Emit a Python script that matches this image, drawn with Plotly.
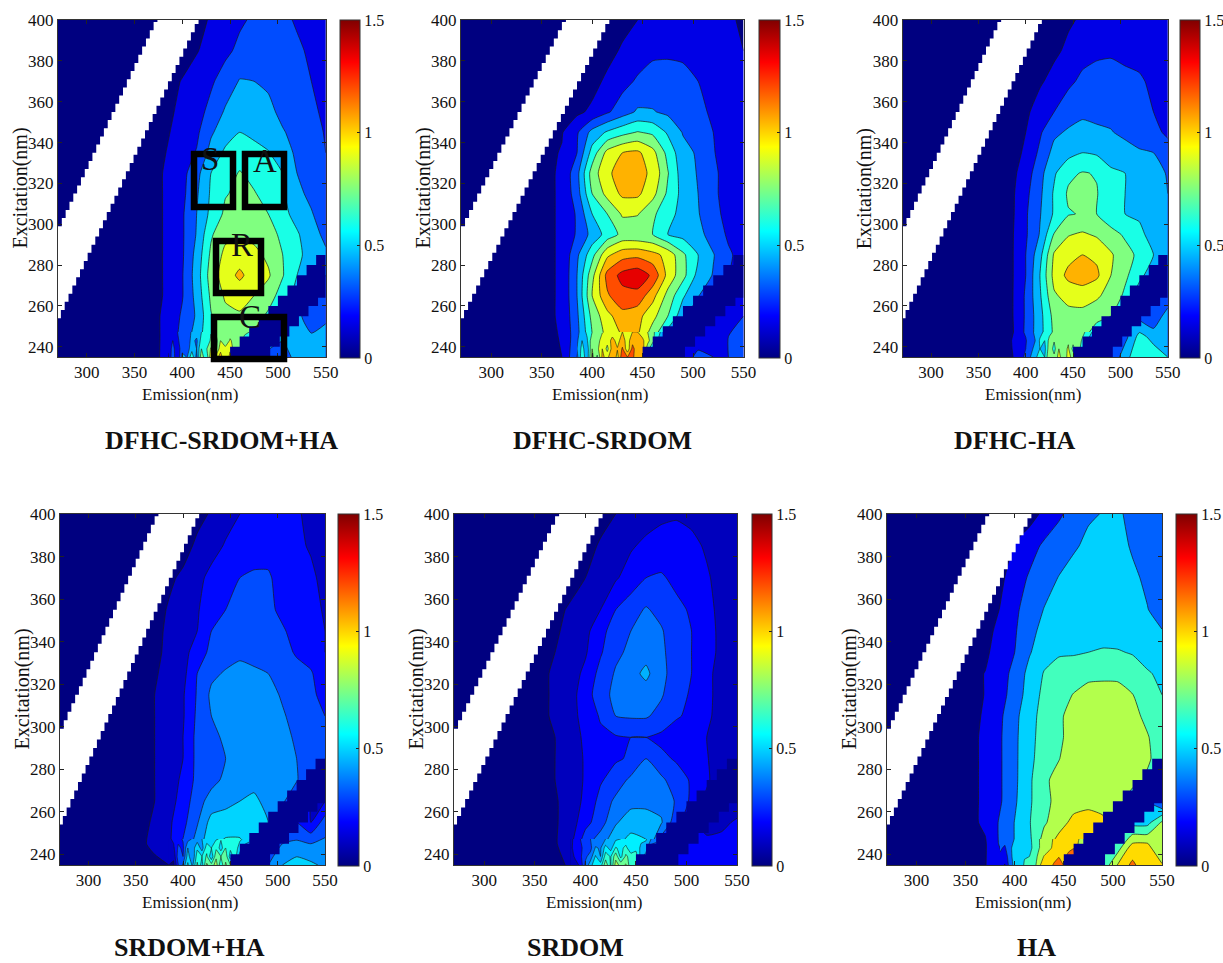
import plotly.graph_objects as go

W, H = 1223, 963
FONT = "Liberation Serif"

emission = [270, 340, 370, 385, 400, 415, 430, 445, 460, 475, 490, 505, 520, 535, 550]
excitation = [400, 385, 370, 355, 345, 335, 325, 315, 305, 295, 285, 275, 265, 255, 245, 235]

dfhc_srdom_ha = [
    [.04,.04,.04,.05,.06,.09,.17,.23,.28,.32,.35,.34,.28,.24,.2],
    [.04,.04,.04,.05,.07,.14,.21,.27,.33,.38,.4,.38,.33,.27,.22],
    [.04,.04,.05,.09,.16,.22,.28,.36,.46,.45,.43,.4,.36,.3,.25],
    [.04,.04,.07,.12,.19,.25,.34,.47,.54,.53,.48,.42,.38,.33,.27],
    [.04,.05,.08,.14,.21,.27,.43,.53,.6,.56,.52,.46,.41,.35,.29],
    [.04,.05,.09,.16,.23,.31,.5,.63,.68,.66,.61,.5,.43,.38,.3],
    [.04,.05,.1,.18,.25,.4,.6,.69,.76,.71,.66,.6,.45,.4,.32],
    [.04,.05,.1,.18,.26,.43,.62,.74,.78,.76,.7,.62,.48,.42,.35],
    [.04,.05,.1,.18,.28,.45,.64,.78,.82,.79,.75,.65,.54,.46,.38],
    [.04,.05,.1,.18,.28,.46,.73,.86,.88,.86,.8,.72,.62,.5,.42],
    [.04,.05,.1,.18,.28,.5,.78,.94,.98,.94,.87,.75,.63,.55,.47],
    [.04,.05,.1,.18,.29,.52,.82,.98,1.08,.98,.92,.76,.6,.5,.45],
    [.04,.05,.1,.18,.29,.5,.78,.92,.96,.9,.82,.68,.55,.45,.4],
    [.04,.05,.11,.2,.32,.47,.74,.86,.88,.82,.72,.6,.5,.35,.42],
    [.04,.05,.11,.2,.35,.52,.74,.84,.82,.72,.55,.48,.5,.47,.5],
    [.04,.05,.1,.22,.42,.62,.88,1.08,.92,.7,.4,.35,.52,.47,.56],
]
dfhc_srdom = [
    [.04,.04,.04,.05,.05,.06,.1,.15,.2,.22,.24,.24,.22,.18,.12],
    [.04,.04,.04,.05,.06,.1,.17,.22,.27,.28,.28,.27,.25,.2,.15],
    [.04,.04,.05,.07,.1,.18,.25,.32,.36,.35,.33,.3,.27,.22,.17],
    [.04,.05,.08,.12,.18,.28,.38,.47,.46,.42,.38,.33,.28,.22,.17],
    [.04,.08,.14,.28,.5,.62,.7,.76,.72,.58,.44,.38,.3,.22,.17],
    [.04,.08,.16,.3,.66,.95,1.05,1.08,.95,.7,.5,.43,.31,.23,.17],
    [.04,.08,.17,.4,.82,1.02,1.12,1.1,1.02,.76,.52,.44,.33,.24,.18],
    [.04,.08,.17,.38,.75,.95,1.08,1.08,.95,.72,.55,.45,.33,.24,.18],
    [.04,.08,.17,.32,.6,.75,.92,.91,.78,.65,.55,.46,.35,.25,.18],
    [.04,.08,.17,.32,.5,.66,.79,.78,.75,.6,.55,.5,.38,.28,.2],
    [.04,.08,.17,.42,.7,1.02,1.14,1.16,1.1,1.0,.78,.6,.46,.32,.25],
    [.04,.08,.17,.45,.85,1.25,1.4,1.45,1.32,1.0,.8,.55,.44,.3,.2],
    [.04,.08,.17,.45,.9,1.18,1.3,1.3,1.1,.85,.62,.46,.3,.2,.2],
    [.04,.08,.17,.42,.8,1.0,1.15,1.1,.95,.75,.5,.3,.2,.2,.3],
    [.04,.08,.16,.4,.75,.95,1.05,1.05,.8,.5,.3,.2,.3,.3,.33],
    [.04,.07,.15,.45,.9,1.05,1.2,1.1,.5,.3,.2,.35,.3,.3,.32],
]
dfhc_ha = [
    [.04,.04,.04,.04,.05,.05,.08,.13,.17,.2,.22,.23,.22,.22,.2],
    [.04,.04,.04,.04,.05,.07,.12,.18,.25,.28,.29,.27,.25,.23,.2],
    [.04,.04,.04,.05,.07,.13,.2,.27,.33,.34,.33,.33,.32,.27,.22],
    [.04,.04,.05,.07,.12,.22,.3,.38,.42,.42,.4,.38,.36,.3,.26],
    [.04,.04,.05,.08,.15,.28,.42,.47,.5,.47,.46,.41,.37,.33,.28],
    [.04,.04,.06,.08,.18,.33,.5,.55,.6,.58,.55,.52,.47,.45,.35],
    [.04,.05,.07,.11,.22,.4,.58,.72,.76,.74,.62,.6,.56,.5,.44],
    [.04,.05,.08,.12,.26,.42,.62,.77,.8,.76,.63,.6,.55,.48,.45],
    [.04,.05,.08,.12,.28,.44,.62,.74,.76,.75,.66,.6,.57,.5,.46],
    [.04,.05,.08,.13,.28,.46,.76,.89,.92,.88,.8,.73,.65,.52,.46],
    [.04,.05,.08,.13,.3,.55,.92,1.0,1.05,1.02,.92,.8,.72,.6,.5],
    [.04,.05,.08,.13,.3,.6,.95,1.09,1.12,1.08,.9,.78,.65,.5,.4],
    [.04,.05,.08,.13,.32,.58,.88,.95,.98,.92,.85,.72,.5,.4,.3],
    [.04,.05,.08,.13,.32,.55,.8,.85,.84,.82,.75,.5,.4,.3,.55],
    [.04,.05,.08,.12,.33,.55,.78,.82,.8,.6,.4,.4,.65,.55,.6],
    [.04,.05,.08,.14,.35,.62,.85,.85,.4,.3,.3,.55,.7,.68,.6],
]
srdom_ha = [
    [.03,.03,.03,.03,.04,.07,.11,.16,.2,.22,.23,.23,.21,.18,.15],
    [.03,.03,.03,.04,.06,.12,.16,.21,.25,.27,.27,.25,.22,.19,.16],
    [.03,.03,.05,.08,.12,.17,.23,.27,.3,.31,.31,.27,.25,.22,.17],
    [.03,.04,.06,.11,.15,.19,.26,.3,.33,.34,.32,.28,.26,.23,.19],
    [.03,.04,.07,.12,.16,.2,.3,.34,.36,.36,.34,.31,.27,.23,.2],
    [.03,.04,.08,.12,.17,.24,.33,.36,.38,.38,.36,.33,.29,.26,.2],
    [.03,.05,.09,.13,.17,.3,.38,.41,.43,.41,.4,.36,.33,.31,.24],
    [.03,.05,.1,.14,.19,.31,.42,.44,.45,.44,.43,.39,.35,.32,.27],
    [.03,.05,.1,.14,.19,.32,.4,.44,.46,.45,.44,.41,.37,.33,.3],
    [.03,.05,.1,.14,.2,.33,.37,.42,.45,.46,.45,.42,.39,.34,.32],
    [.03,.05,.1,.15,.2,.33,.36,.4,.44,.46,.46,.43,.4,.31,.3],
    [.03,.05,.1,.15,.22,.33,.37,.42,.46,.47,.46,.44,.41,.3,.2],
    [.03,.05,.1,.16,.24,.36,.44,.47,.5,.52,.47,.42,.3,.2,.2],
    [.03,.05,.11,.18,.27,.39,.54,.55,.55,.53,.5,.3,.3,.2,.35],
    [.03,.05,.12,.18,.31,.45,.58,.62,.62,.5,.4,.4,.42,.4,.42],
    [.03,.05,.08,.1,.42,.6,.68,.72,.6,.4,.4,.5,.55,.52,.48],
]
srdom = [
    [.03,.03,.03,.03,.04,.06,.09,.12,.14,.16,.17,.16,.14,.12,.1],
    [.03,.03,.03,.04,.06,.1,.14,.17,.2,.22,.22,.2,.17,.13,.1],
    [.03,.03,.04,.06,.09,.13,.17,.22,.27,.28,.25,.22,.19,.15,.1],
    [.03,.04,.07,.1,.13,.18,.27,.32,.37,.33,.29,.26,.2,.16,.1],
    [.03,.04,.08,.11,.15,.25,.3,.36,.4,.37,.3,.27,.21,.16,.11],
    [.03,.05,.09,.12,.17,.26,.34,.38,.42,.38,.31,.27,.21,.16,.11],
    [.03,.05,.1,.14,.2,.3,.37,.42,.47,.39,.31,.27,.2,.15,.1],
    [.03,.05,.1,.15,.22,.33,.38,.4,.41,.37,.3,.26,.2,.15,.1],
    [.03,.05,.1,.15,.21,.28,.36,.37,.37,.33,.28,.25,.2,.14,.1],
    [.03,.05,.09,.13,.2,.25,.26,.27,.27,.25,.22,.2,.18,.14,.1],
    [.03,.05,.09,.13,.19,.24,.26,.28,.36,.29,.26,.22,.19,.1,.1],
    [.03,.05,.09,.13,.19,.26,.31,.38,.4,.38,.31,.26,.2,.1,.1],
    [.03,.05,.08,.13,.2,.3,.38,.42,.42,.42,.35,.25,.15,.1,.1],
    [.03,.05,.08,.13,.24,.32,.44,.5,.5,.46,.3,.2,.15,.15,.2],
    [.03,.05,.08,.15,.33,.42,.52,.58,.55,.3,.2,.2,.2,.22,.2],
    [.03,.04,.03,.12,.36,.55,.72,.72,.4,.2,.2,.22,.25,.22,.2],
]
ha = [
    [.05,.05,.05,.05,.06,.1,.2,.3,.4,.48,.5,.52,.45,.4,.37],
    [.05,.05,.05,.06,.18,.26,.36,.43,.48,.52,.55,.54,.48,.42,.37],
    [.05,.05,.06,.13,.24,.35,.44,.5,.54,.56,.56,.55,.52,.47,.42],
    [.05,.05,.08,.17,.29,.42,.5,.55,.58,.6,.6,.58,.55,.5,.44],
    [.05,.05,.1,.22,.31,.46,.53,.58,.6,.61,.62,.6,.58,.54,.5],
    [.05,.06,.13,.25,.33,.48,.6,.64,.64,.66,.67,.67,.65,.58,.52],
    [.05,.07,.17,.27,.37,.55,.67,.73,.77,.8,.8,.79,.73,.68,.62],
    [.05,.07,.17,.27,.4,.57,.7,.78,.83,.86,.87,.88,.83,.72,.66],
    [.05,.08,.18,.3,.45,.6,.72,.8,.88,.92,.93,.92,.88,.78,.7],
    [.05,.08,.19,.31,.46,.61,.73,.8,.88,.93,.95,.95,.92,.84,.72],
    [.05,.08,.19,.31,.46,.62,.74,.82,.9,.94,.96,.96,.92,.85,.75],
    [.05,.08,.19,.31,.46,.63,.8,.87,.92,.95,.96,.95,.9,.8,.7],
    [.05,.08,.19,.31,.47,.64,.76,.9,.93,.95,.97,.9,.7,.5,.3],
    [.05,.08,.19,.35,.5,.65,.8,.93,1.03,1.05,1.0,.7,.6,.6,.85],
    [.05,.07,.15,.35,.5,.62,.92,1.05,1.07,1.0,.7,.7,1.0,1.0,.85],
    [.05,.06,.16,.25,.5,.7,1.02,1.2,1.0,.7,.7,1.0,1.2,1.0,1.0],
]

# finer readings of the spiky bottom edge of each panel
detail_emission = [385,390,395,400,405,410,415,420,425,430,435,440,445,450,455,460,465,470]
detail_excitation = [247.25, 243, 239, 235]
detail_dfhc_srdom_ha = [
    [.2,.25,.3,.35,.41,.46,.52,.6,.67,.74,.77,.81,.84,.83,.83,.82,.78,.75],
    [.2,.3,.27,.38,.36,.5,.42,.66,.62,.78,.68,.9,.78,.92,.84,.85,.7,.75],
    [.18,.35,.2,.4,.36,.55,.45,.75,.72,.92,.7,1.0,.95,1.02,.8,.9,.7,.7],
    [.12,.4,.15,.5,.44,.7,.4,.85,.62,1.0,.95,1.12,.9,1.1,.8,.95,.7,.7],
]
detail_dfhc_srdom = [
    [.4,.52,.63,.75,.82,.88,.95,.98,1.02,1.05,1.05,1.05,1.05,.98,.9,.8,.65,.55],
    [.42,.6,.58,.85,.78,1.02,.96,1.1,1.0,1.12,.98,1.15,1.08,1.08,.95,.8,.6,.5],
    [.45,.65,.5,.9,.85,1.05,.85,1.12,1.06,1.22,.95,1.25,1.1,1.12,.82,.6,.4,.4],
    [.4,.7,.5,.95,.72,1.08,1.0,1.2,1.0,1.3,1.2,1.25,1.05,1.1,.9,.5,.3,.3],
]
detail_dfhc_ha = [
    [.12,.19,.26,.33,.4,.48,.55,.63,.7,.78,.79,.8,.82,.81,.81,.8,.7,.6],
    [.15,.18,.3,.28,.42,.45,.62,.6,.8,.76,.85,.78,.88,.8,.85,.72,.6,.5],
    [.14,.22,.3,.3,.4,.5,.6,.55,.85,.7,.9,.84,.92,.7,.88,.6,.4,.4],
    [.1,.25,.2,.38,.45,.55,.7,.6,.9,.78,.95,.8,.95,.85,.6,.4,.3,.3],
]
detail_srdom_ha = [
    [.18,.22,.27,.31,.36,.41,.45,.5,.54,.58,.59,.61,.62,.62,.62,.62,.58,.55],
    [.2,.18,.32,.28,.5,.44,.58,.45,.66,.6,.68,.55,.7,.62,.66,.55,.45,.4],
    [.15,.12,.36,.3,.55,.4,.66,.6,.72,.52,.78,.7,.76,.55,.65,.45,.4,.35],
    [.1,.08,.3,.42,.62,.48,.72,.55,.82,.74,.85,.62,.82,.7,.65,.4,.3,.3],
]
detail_srdom = [
    [.15,.21,.27,.33,.36,.39,.42,.45,.49,.52,.54,.56,.58,.57,.56,.55,.45,.4],
    [.13,.25,.22,.36,.33,.46,.44,.58,.5,.64,.6,.66,.55,.6,.52,.5,.3,.3],
    [.12,.2,.25,.34,.4,.55,.45,.68,.62,.78,.6,.74,.68,.68,.5,.4,.3,.25],
    [.1,.14,.2,.38,.5,.62,.58,.78,.62,.85,.78,.82,.65,.72,.6,.35,.25,.2],
]
detail_ha = [
    [.35,.4,.45,.5,.54,.58,.62,.72,.82,.92,.96,1.0,1.05,1.05,1.06,1.07,1.0,.9],
    [.36,.3,.48,.52,.5,.62,.62,.7,.82,.9,.96,1.02,1.1,1.05,1.1,1.15,.95,.85],
    [.3,.2,.45,.55,.52,.65,.66,.72,.9,1.0,1.05,1.08,1.15,1.1,1.22,1.22,1.0,.8],
    [.2,.16,.4,.55,.56,.68,.7,.75,.98,1.02,1.08,1.18,1.2,1.15,1.25,1.22,1.0,.8],
]

panel_titles = ["DFHC-SRDOM+HA", "DFHC-SRDOM", "DFHC-HA", "SRDOM+HA", "SRDOM", "HA"]
panel_values = [dfhc_srdom_ha, dfhc_srdom, dfhc_ha, srdom_ha, srdom, ha]
panel_details = [detail_dfhc_srdom_ha, detail_dfhc_srdom, detail_dfhc_ha, detail_srdom_ha, detail_srdom, detail_ha]
level_steps = [.15, .15, .15, .1, .09, .165]

x_ticks = [300, 350, 400, 450, 500, 550]
y_ticks = [240, 260, 280, 300, 320, 340, 360, 380, 400]
cbar_ticks = [0, .5, 1, 1.5]
cbar_labels = ["0", "0.5", "1", "1.5"]

# Rayleigh scatter band (white) and second-order band (navy), staircase edges
scatter_ex = [250,254,258,262,266,270,274,278,282,286,290,294,298,302,306,310,314,318,322,326,330,334,338,342,346,350,354,358,362,366,370,374,378,382,386,390,394,398,400]
scatter_em_right = [270,273,277,281,285,289,293,297,301,305,309,313,317,321,325,329,333,337,341,345,349,353,357,361,365,369,373,377,381,385,389,393,397,401,405,409,413,417,418]
scatter_left_ex = [295,299,303,307,311,315,319,323,327,331,335,339,343,347,351,355,359,363,367,371,375,379,383,387,391,395,399,400]
scatter_em_left = [270,274,278,282,286,290,294,298,302,306,310,314,318,322,326,330,334,338,342,346,350,354,358,362,366,370,374,376]
second_upper_ex = [235,240,245,250,255,260,265,270,275,280,285,288]
second_upper_em = [450,460,470,480,490,500,510,520,530,540,550,550]
second_lower_ex = [235,240,245,250,255,260,264]
second_lower_em = [492,502,512,522,532,542,550]

# panel frames in page pixels: left, right, top, bottom, colourbar left, colourbar right, title x, title y
frames = [
    (58, 325.7, 20, 357, 340, 360, 222, 440),
    (461, 743.5, 20, 357, 759, 780, 602, 440),
    (902.7, 1167.7, 20, 357, 1180, 1200, 1015, 440),
    (60, 325, 514, 865, 338, 359, 189, 947),
    (454, 737, 514, 865, 752, 772, 575, 947),
    (887, 1162, 514, 865, 1176, 1197, 1036, 947),
]


def px(x):
    return x / W


def py(y):
    return 1 - y / H


def jet(t):
    stops = [(0, (0, 0, 128)), (.125, (0, 0, 255)), (.375, (0, 255, 255)),
             (.625, (255, 255, 0)), (.875, (255, 0, 0)), (1, (128, 0, 0))]
    for (a, ca), (b, cb) in zip(stops, stops[1:]):
        if t <= b:
            f = (t - a) / (b - a)
            return "rgb(%d,%d,%d)" % tuple(round(p + (q - p) * f) for p, q in zip(ca, cb))
    return "rgb(128,0,0)"


def stairs(ems, exs):
    xs, ys = [ems[0]], [exs[0]]
    for e, y in zip(ems[1:], exs[1:]):
        xs += [xs[-1], e]
        ys += [y, y]
    return xs, ys


jet_scale = [[0, "#000080"], [.125, "#0000ff"], [.375, "#00ffff"], [.625, "#ffff00"], [.875, "#ff0000"], [1, "#800000"]]
axis_font = dict(family=FONT, size=17, color="#111")
bar_font = dict(family=FONT, size=16, color="#111")
fig = go.Figure()
annotations = []
shapes = []

for i, (title, z, detail, step, fr) in enumerate(zip(panel_titles, panel_values, panel_details, level_steps, frames)):
    n = "" if i == 0 else str(i + 1)
    xa, ya = "x" + n, "y" + n
    l, r, t, b, cl, cr, tx, ty = fr
    common = dict(showline=True, linecolor="#333", linewidth=1, mirror="ticks", ticks="inside",
                  ticklen=4, tickcolor="#222", tickfont=axis_font, showgrid=False, zeroline=False)
    fig.update_layout({
        "xaxis" + n: dict(domain=[px(l), px(r)], range=[270, 550], anchor=ya, tickvals=x_ticks, **common),
        "yaxis" + n: dict(domain=[py(b), py(t)], range=[235, 400], anchor=xa, tickvals=y_ticks, **common),
    })
    count = int(1.5 / step)
    band_scale = [[k / count, jet(k * step / 1.5)] for k in range(count + 1)]
    levels = dict(start=step, end=step * count, size=step, coloring="fill")
    fig.add_trace(go.Contour(
        x=emission, y=excitation, z=z, xaxis=xa, yaxis=ya, showscale=False, hoverinfo="skip",
        colorscale=band_scale, autocontour=False, contours=levels,
        line=dict(color="#1a1a1a", width=0.7, smoothing=0.5),
    ))
    fig.add_trace(go.Contour(
        x=detail_emission, y=detail_excitation, z=detail, xaxis=xa, yaxis=ya, showscale=False, hoverinfo="skip",
        colorscale=band_scale, autocontour=False, contours=levels,
        line=dict(color="#1a1a1a", width=0.6, smoothing=0.2),
    ))
    fig.add_trace(go.Heatmap(
        x=[1000], y=[1000], z=[[0]], xaxis=xa, yaxis=ya, zmin=0, zmax=1.5, colorscale=jet_scale, hoverinfo="skip",
        colorbar=dict(
            x=px(cl), xanchor="left", y=py(t), yanchor="top", thickness=cr - cl, thicknessmode="pixels",
            len=b - t + 1, lenmode="pixels", xpad=0, ypad=0, outlinecolor="#333", outlinewidth=1,
            tickmode="array", tickvals=cbar_ticks, ticktext=cbar_labels, ticks="inside", ticklen=3,
            tickcolor="#222", tickfont=bar_font),
    ))
    xs1, ys1 = stairs(scatter_em_right, scatter_ex)
    xs2, ys2 = stairs(scatter_em_left, scatter_left_ex)
    fig.add_trace(go.Scatter(
        x=xs1 + xs2[::-1], y=ys1 + ys2[::-1], xaxis=xa, yaxis=ya, mode="lines", fill="toself",
        fillcolor="white", line=dict(width=0, color="white"), hoverinfo="skip", showlegend=False))
    xs3, ys3 = stairs(second_upper_em, second_upper_ex)
    xs4, ys4 = stairs(second_lower_em, second_lower_ex)
    fig.add_trace(go.Scatter(
        x=xs3 + xs4[::-1], y=ys3 + ys4[::-1], xaxis=xa, yaxis=ya, mode="lines", fill="toself",
        fillcolor="#000090", line=dict(width=0, color="#000090"), hoverinfo="skip", showlegend=False))

    annotations.append(dict(text=title, x=px(tx), y=py(ty), xref="paper", yref="paper", showarrow=False,
                            xanchor="center", yanchor="middle",
                            font=dict(family=FONT, size=26, color="#111", weight="bold")))
    annotations.append(dict(text="Emission(nm)", x=px((l + r) / 2 - 2), y=py(b + 37), xref="paper", yref="paper",
                            showarrow=False, xanchor="center", yanchor="middle",
                            font=dict(family=FONT, size=17, color="#111")))
    annotations.append(dict(text="Excitation(nm)", x=px(l - 38), y=py((t + b) / 2 + 0), xref="paper", yref="paper",
                            showarrow=False, xanchor="center", yanchor="middle", textangle=-90,
                            font=dict(family=FONT, size=20, color="#111")))

# region boxes drawn on the first panel (page pixels: left, right, top, bottom)
region_boxes = [(194, 233, 154, 207), (245, 284, 154, 207), (216, 261, 241, 293), (214, 284, 317, 359)]
region_labels = [("S", 210, 159), ("A", 265, 161), ("R", 242, 245), ("C", 250, 317)]
for x0, x1, y0, y1 in region_boxes:
    shapes.append(dict(type="rect", xref="paper", yref="paper", x0=px(x0), x1=px(x1), y0=py(y1), y1=py(y0),
                       line=dict(color="black", width=6.5), layer="above"))
for text, x, y in region_labels:
    annotations.append(dict(text=text, x=px(x), y=py(y), xref="paper", yref="paper", showarrow=False,
                            xanchor="center", yanchor="middle", font=dict(family=FONT, size=33, color="#111")))

fig.update_layout(width=W, height=H, autosize=False, margin=dict(l=0, r=0, t=0, b=0, autoexpand=False), showlegend=False,
                  paper_bgcolor="white", plot_bgcolor="white", annotations=annotations, shapes=shapes,
                  font=dict(family=FONT))
fig.write_html("out.html", post_script="document.body.style.margin='0';",
               config=dict(displayModeBar=False))
